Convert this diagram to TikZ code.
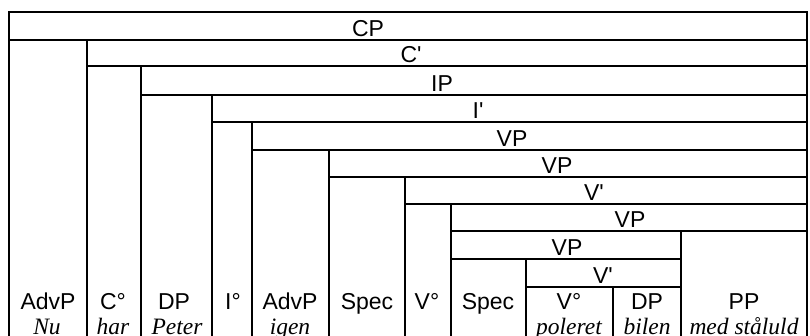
\documentclass[tikz,border=0pt]{standalone}
\usepackage{fontspec}
\setmainfont{Liberation Sans}
\newfontfamily\tms{Liberation Serif}
\begin{document}
\begin{tikzpicture}[x=1pt,y=-1pt,line width=1.6pt,
  lab/.style={font=\fontsize{23}{26}\selectfont,anchor=base,inner sep=0pt},
  wrd/.style={font=\tms\itshape\fontsize{23.5}{26}\selectfont,anchor=base,inner sep=0pt}]
\useasboundingbox (0,0) rectangle (810,336);
% phrase rows
\draw (9,12) rectangle (807,40);
\draw (87,40) rectangle (807,66);
\draw (141,66) rectangle (807,95);
\draw (212,95) rectangle (807,122);
\draw (252,122) rectangle (807,150);
\draw (329,150) rectangle (807,177);
\draw (405,177) rectangle (807,204);
\draw (451,204) rectangle (807,231);
\draw (451,231) rectangle (681,259);
\draw (526,259) rectangle (681,287);
% columns (open at the bottom)
\draw (9,40) -- (9,345);
\draw (87,66) -- (87,345);
\draw (141,95) -- (141,345);
\draw (212,122) -- (212,345);
\draw (252,150) -- (252,345);
\draw (329,177) -- (329,345);
\draw (405,204) -- (405,345);
\draw (451,231) -- (451,345);
\draw (526,287) -- (526,345);
\draw (613,287) -- (613,345);
\draw (681,259) -- (681,345);
\draw (807,231) -- (807,345);
% row labels
\node[lab] (cp) at (368,36.5) {CP};
\node[lab] (cbar) at (411,63) {C\textquotesingle};
\node[lab] (ip) at (442,91.5) {IP};
\node[lab] (ibar) at (478,118.5) {I\textquotesingle};
\node[lab] (vp1) at (512,146.5) {VP};
\node[lab] (vp2) at (557,173.5) {VP};
\node[lab] (vbar1) at (594,200.5) {V\textquotesingle};
\node[lab] (vp3) at (630,227.5) {VP};
\node[lab] (vp4) at (567,255.5) {VP};
\node[lab] (vbar2) at (603,283.5) {V\textquotesingle};
% column labels
\node[lab] (advp1) at (48,309) {AdvP};
\node[lab] (c0) at (113,309) {C°};
\node[lab] (dp1) at (174,309) {DP};
\node[lab] (i0) at (233,309) {I°};
\node[lab] (advp2) at (290,309) {AdvP};
\node[lab] (spec1) at (367,309) {Spec};
\node[lab] (v01) at (427,309) {V°};
\node[lab] (spec2) at (488,309) {Spec};
\node[lab] (v02) at (569,309) {V°};
\node[lab] (dp2) at (647,309) {DP};
\node[lab] (pp) at (744,309) {PP};
% words
\node[wrd] (w1) at (47,334) {Nu};
\node[wrd] (w2) at (113,334) {har};
\node[wrd] (w3) at (177,334) {Peter};
\node[wrd] (w4) at (290,334) {igen};
\node[wrd] (w5) at (569,334) {poleret};
\node[wrd] (w6) at (647,334) {bilen};
\node[wrd] (w7) at (744,334) {med ståluld};
\end{tikzpicture}
\end{document}
